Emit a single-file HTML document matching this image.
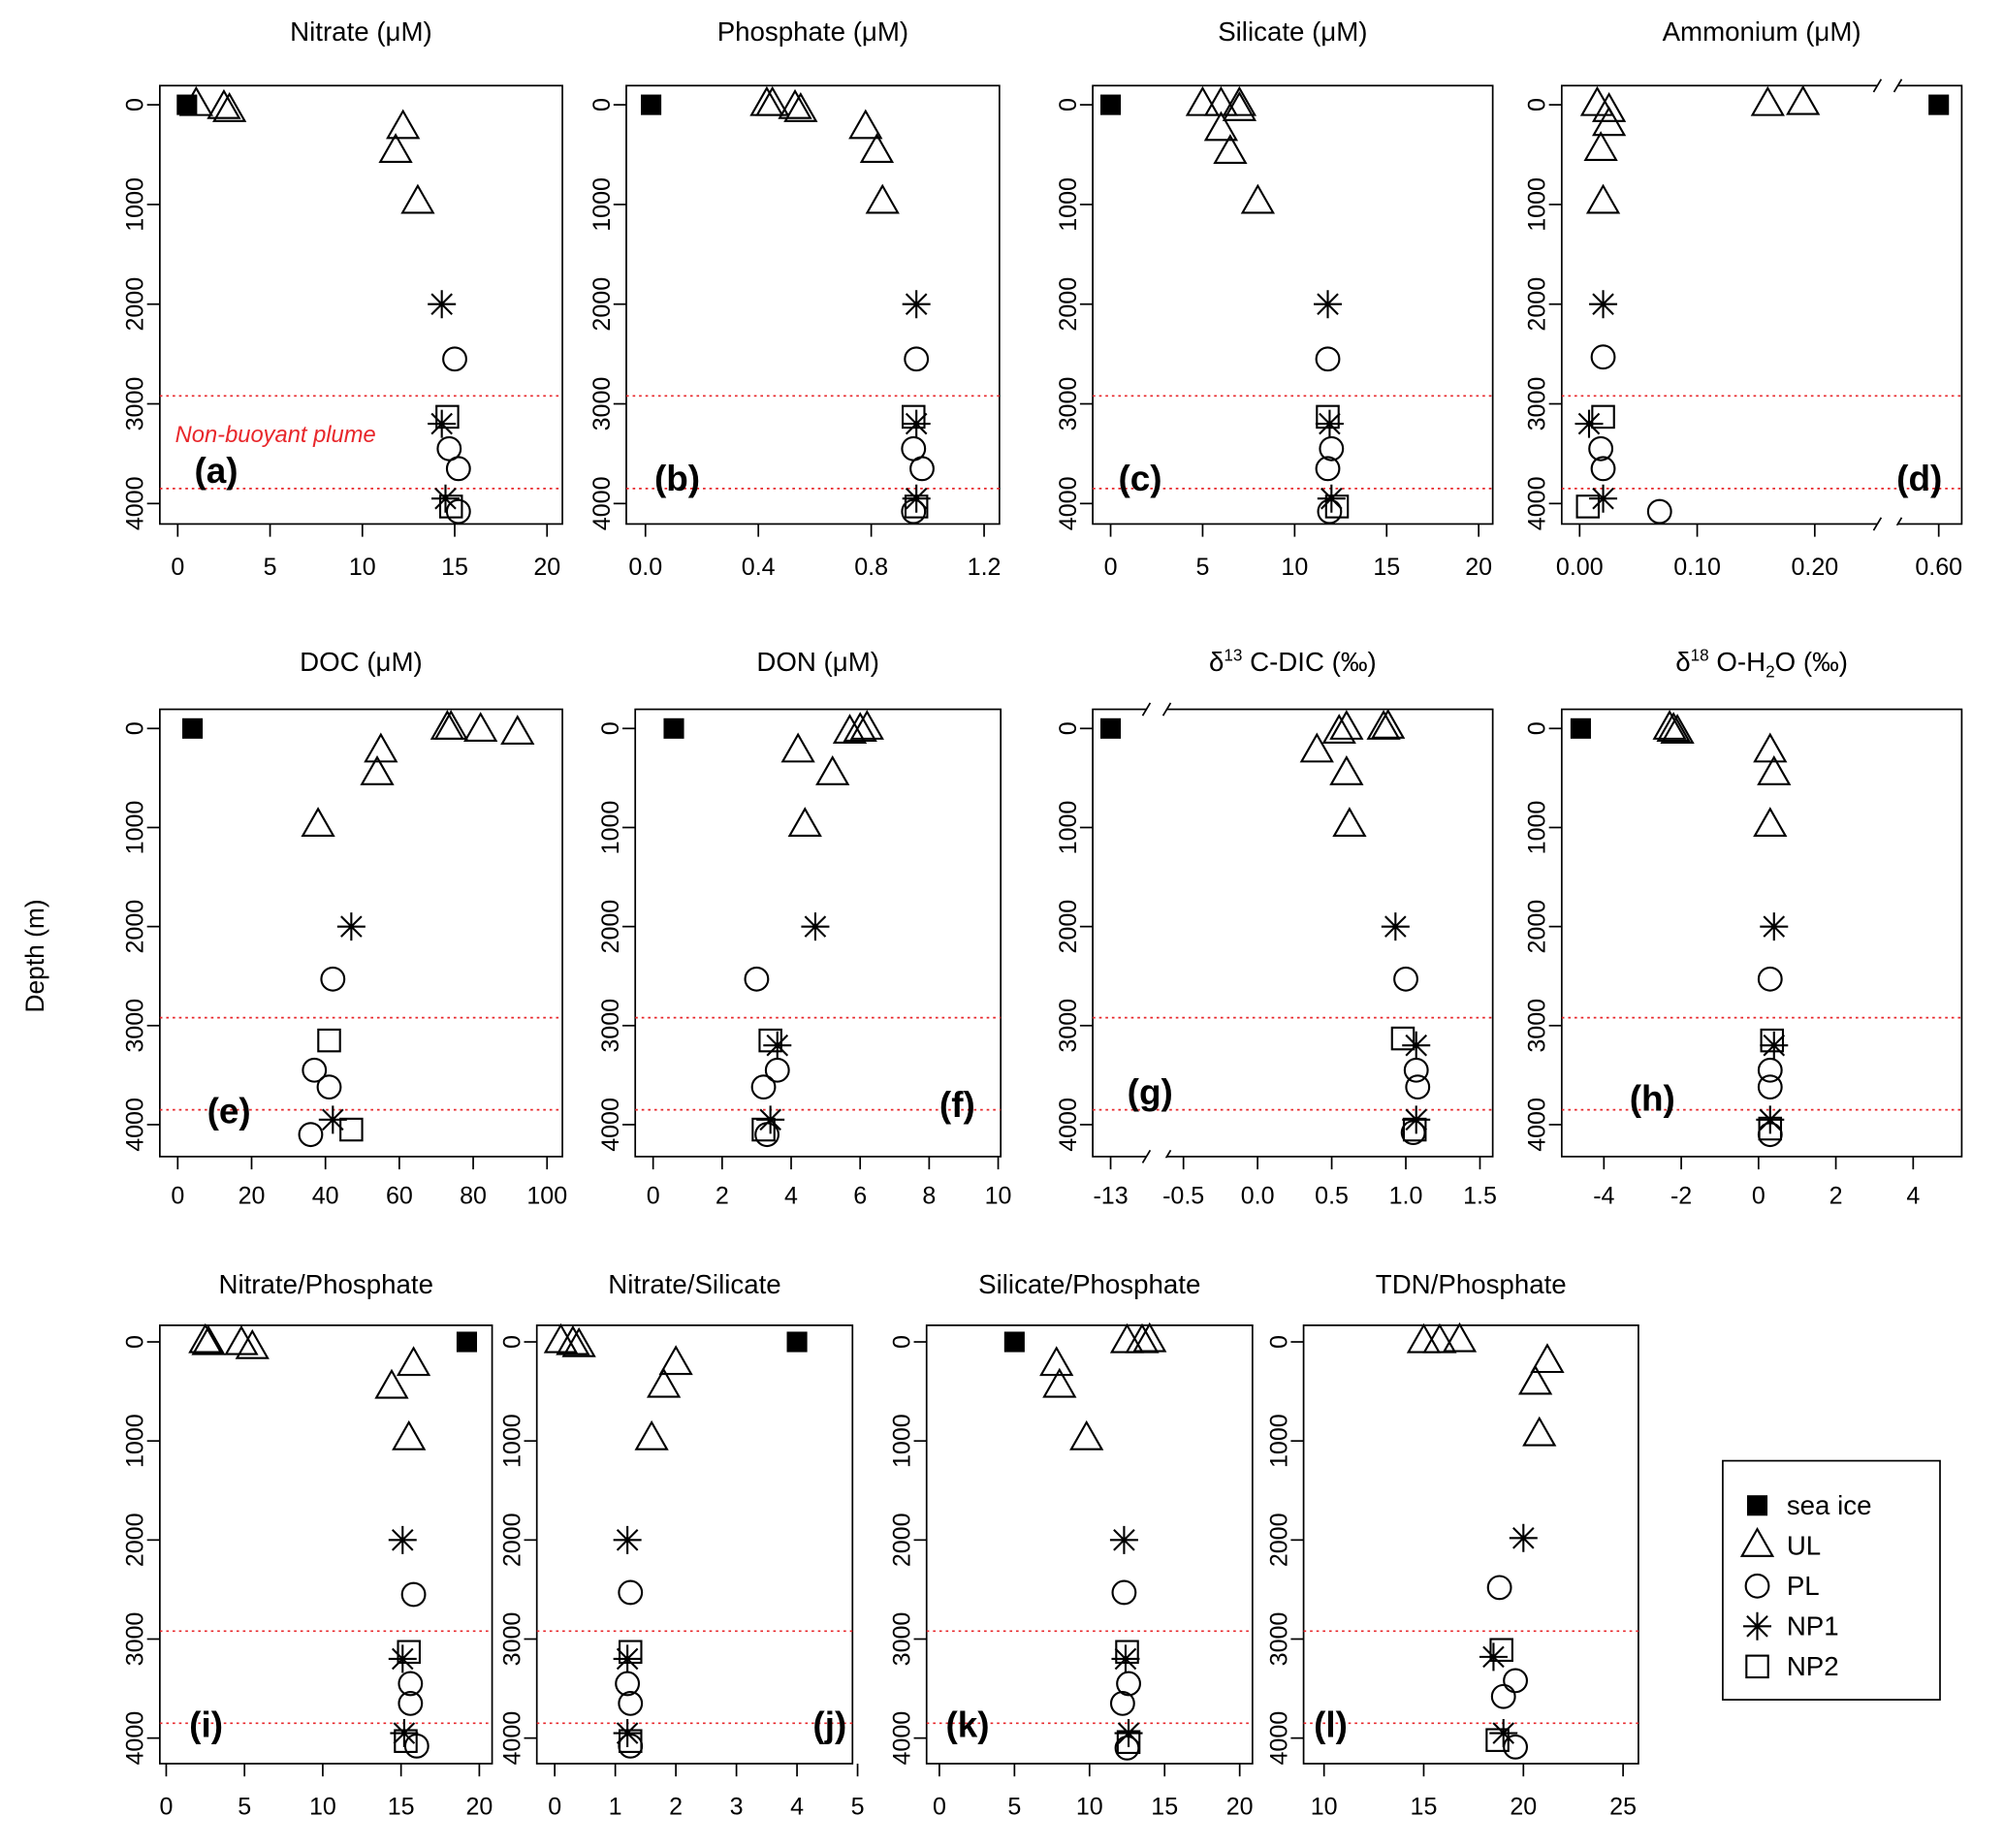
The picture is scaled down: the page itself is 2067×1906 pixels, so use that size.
<!DOCTYPE html>
<html><head><meta charset="utf-8"><style>
html,body{margin:0;padding:0;background:#fff}
svg{display:block;font-family:"Liberation Sans",Arial,sans-serif}
</style></head><body>
<svg id="c" width="2067" height="1906" viewBox="0 0 1568 1446" xmlns="http://www.w3.org/2000/svg"></svg>
<script>
// ---- data: [value, depth] ----
const aIce=[[0.5,0]], aUL=[[1,0],[2.5,30],[2.8,60],[12.2,230],[11.8,470],[13,980]], aPL=[[15,2550],[14.7,3450],[15.2,3650],[15.2,4080]], aNP1=[[14.3,2000],[14.3,3200],[14.5,3950]], aNP2=[[14.6,3130],[14.8,4030]];
const bIce=[[0.02,0]], bUL=[[0.43,0],[0.45,0],[0.53,30],[0.55,60],[0.78,230],[0.82,470],[0.84,980]], bPL=[[0.96,2550],[0.95,3450],[0.98,3650],[0.95,4080]], bNP1=[[0.96,2000],[0.96,3200],[0.96,3950]], bNP2=[[0.95,3130],[0.96,4030]];
const cIce=[[0,0]], cUL=[[5,0],[6,0],[7,0],[7,50],[6,250],[6.5,480],[8,980]], cPL=[[11.8,2550],[12,3450],[11.8,3650],[11.9,4080]], cNP1=[[11.8,2000],[11.9,3200],[12,3950]], cNP2=[[11.8,3130],[12.3,4030]];
const dIce=[[0.6,0]], dUL=[[0.16,0],[0.19,-10],[0.015,0],[0.025,60],[0.025,200],[0.018,450],[0.02,980]], dPL=[[0.02,2530],[0.018,3450],[0.02,3650],[0.068,4080]], dNP1=[[0.02,2000],[0.008,3200],[0.02,3950]], dNP2=[[0.02,3130],[0.007,4030]];
const eIce=[[4,0]], eUL=[[73,0],[74,0],[82,20],[92,50],[55,230],[54,460],[38,980]], ePL=[[42,2530],[37,3450],[41,3620],[36,4100]], eNP1=[[47,2000],[42,3950]], eNP2=[[41,3150],[47,4050]];
const fIce=[[0.6,0]], fUL=[[6.2,0],[6,20],[5.7,40],[4.2,230],[5.2,460],[4.4,980]], fPL=[[3,2530],[3.6,3450],[3.2,3620],[3.3,4100]], fNP1=[[4.7,2000],[3.6,3200],[3.4,3950]], fNP2=[[3.4,3150],[3.2,4050]];
const gIce=[[-13,0]], gUL=[[0.85,0],[0.88,-10],[0.6,0],[0.55,40],[0.4,230],[0.6,460],[0.62,980]], gPL=[[1,2530],[1.07,3450],[1.08,3620],[1.05,4080]], gNP1=[[0.93,2000],[1.07,3200],[1.07,3950]], gNP2=[[0.98,3130],[1.06,4050]];
const hIce=[[-4.6,0]], hUL=[[-2.3,0],[-2.2,20],[-2.1,40],[0.3,230],[0.4,460],[0.3,980]], hPL=[[0.3,2530],[0.3,3450],[0.3,3620],[0.3,4100]], hNP1=[[0.4,2000],[0.4,3200],[0.3,3950]], hNP2=[[0.35,3150],[0.3,4040]];
const iIce=[[19.2,0]], iUL=[[2.5,0],[2.7,20],[4.8,20],[5.5,60],[15.8,230],[14.4,460],[15.5,980]], iPL=[[15.8,2550],[15.6,3450],[15.6,3650],[16,4080]], iNP1=[[15.1,2000],[15.1,3200],[15.2,3950]], iNP2=[[15.5,3130],[15.3,4030]];
const jIce=[[4,0]], jUL=[[0.1,0],[0.3,20],[0.4,40],[2,220],[1.8,450],[1.6,980]], jPL=[[1.25,2530],[1.2,3450],[1.25,3650],[1.25,4080]], jNP1=[[1.2,2000],[1.2,3200],[1.2,3950]], jNP2=[[1.25,3130],[1.25,4030]];
const kIce=[[5,0]], kUL=[[12.5,0],[13.5,0],[14,-10],[7.8,230],[8,450],[9.8,980]], kPL=[[12.3,2530],[12.6,3450],[12.2,3650],[12.5,4100]], kNP1=[[12.3,2000],[12.4,3200],[12.6,3950]], kNP2=[[12.5,3130],[12.6,4040]];
const lIce=[], lUL=[[15,0],[15.8,0],[16.8,-10],[21.2,200],[20.6,420],[20.8,940]], lPL=[[18.8,2480],[19.6,3420],[19,3580],[19.6,4090]], lNP1=[[20,1980],[18.5,3180],[19,3950]], lNP2=[[18.9,3110],[18.7,4020]];
const depthTicks=[0,1000,2000,3000,4000];
const plumeDepths=[2920,3850];

const NS="http://www.w3.org/2000/svg", svg=document.getElementById('c');
function el(t,a,p){const e=document.createElementNS(NS,t);for(const k in a)e.setAttribute(k,a[k]);(p||svg).appendChild(e);return e;}
function lin(d0,d1,p0,p1){return v=>p0+(v-d0)*(p1-p0)/(d1-d0);}

const rows=[{top:67,bot:410,y0:82,y4:394,lab:450},{top:555,bot:905,y0:570,y4:880,lab:942},{top:1037,bot:1380,y0:1050,y4:1360,lab:1420}];
const panels=[
 {id:'a',t:'Nitrate (μM)',r:0,L:125,R:440,x:lin(0,20,139,428),ticks:[0,5,10,15,20],tl:['0','5','10','15','20'],d:[aIce,aUL,aPL,aNP1,aNP2],pl:[152,378],plume:true},
 {id:'b',t:'Phosphate (μM)',r:0,L:490,R:782,x:lin(0,1.2,505,770),ticks:[0,0.4,0.8,1.2],tl:['0.0','0.4','0.8','1.2'],d:[bIce,bUL,bPL,bNP1,bNP2],pl:[512,384]},
 {id:'c',t:'Silicate (μM)',r:0,L:855,R:1168,x:lin(0,20,869,1157),ticks:[0,5,10,15,20],tl:['0','5','10','15','20'],d:[cIce,cUL,cPL,cNP1,cNP2],pl:[875,384]},
 {id:'d',t:'Ammonium (μM)',r:0,L:1222,R:1535,x:v=>v>0.4?1517+(v-0.6)*920:1236+v*920,ticks:[0,0.1,0.2,0.6],tl:['0.00','0.10','0.20','0.60'],d:[dIce,dUL,dPL,dNP1,dNP2],pl:[1484,384],brk:1477},
 {id:'e',t:'DOC (μM)',r:1,L:125,R:440,x:lin(0,100,139,428),ticks:[0,20,40,60,80,100],tl:['0','20','40','60','80','100'],d:[eIce,eUL,ePL,eNP1,eNP2],pl:[162,879]},
 {id:'f',t:'DON (μM)',r:1,L:497,R:783,x:lin(0,10,511,781),ticks:[0,2,4,6,8,10],tl:['0','2','4','6','8','10'],d:[fIce,fUL,fPL,fNP1,fNP2],pl:[735,874]},
 {id:'g',t:'δ13C-DIC (‰)',r:1,L:855,R:1168,x:v=>v<-5?869+(v+13)*10:984+v*116,ticks:[-13,-0.5,0,0.5,1,1.5],tl:['-13','-0.5','0.0','0.5','1.0','1.5'],d:[gIce,gUL,gPL,gNP1,gNP2],pl:[882,864],brk:905},
 {id:'h',t:'δ18O-H2O (‰)',r:1,L:1222,R:1535,x:lin(0,4,1376,1497),ticks:[-4,-2,0,2,4],tl:['-4','-2','0','2','4'],d:[hIce,hUL,hPL,hNP1,hNP2],pl:[1275,869]},
 {id:'i',t:'Nitrate/Phosphate',r:2,L:125,R:385,x:lin(0,20,130,375),ticks:[0,5,10,15,20],tl:['0','5','10','15','20'],d:[iIce,iUL,iPL,iNP1,iNP2],pl:[148,1359]},
 {id:'j',t:'Nitrate/Silicate',r:2,L:420,R:667,x:lin(0,5,434,671),ticks:[0,1,2,3,4,5],tl:['0','1','2','3','4','5'],d:[jIce,jUL,jPL,jNP1,jNP2],pl:[636,1359]},
 {id:'k',t:'Silicate/Phosphate',r:2,L:725,R:980,x:lin(0,20,735,970),ticks:[0,5,10,15,20],tl:['0','5','10','15','20'],d:[kIce,kUL,kPL,kNP1,kNP2],pl:[740,1359]},
 {id:'l',t:'TDN/Phosphate',r:2,L:1020,R:1282,x:lin(10,25,1036,1270),ticks:[10,15,20,25],tl:['10','15','20','25'],d:[lIce,lUL,lPL,lNP1,lNP2],pl:[1028,1359]}
];

function marker(g,k,x,y){
  let e;
  if(k===0){e=el('rect',{x:x-8,y:y-8,width:16,height:16,fill:'#000'},g);}
  else if(k===1){e=el('polygon',{points:`${x},${y-13} ${x-12},${y+8} ${x+12},${y+8}`,fill:'none',stroke:'#000','stroke-width':1.6},g);}
  else if(k===2){e=el('circle',{cx:x,cy:y,r:9,fill:'none',stroke:'#000','stroke-width':1.6},g);}
  else if(k===3){e=el('path',{d:`M${x-11},${y}H${x+11}M${x},${y-11}V${y+11}M${x-8},${y-8}L${x+8},${y+8}M${x-8},${y+8}L${x+8},${y-8}`,stroke:'#000','stroke-width':1.6},g);}
  else {e=el('rect',{x:x-8.5,y:y-8.5,width:17,height:17,fill:'none',stroke:'#000','stroke-width':1.6},g);}
  
}

panels.forEach(p=>{
  const r=rows[p.r], y=lin(0,4000,r.y0,r.y4);
  const g=el('g',{});
  
  
  el('rect',{x:p.L,y:r.top,width:p.R-p.L,height:r.bot-r.top,fill:'none',stroke:'#000','stroke-width':1.3},g);
  if(p.brk){el('rect',{x:p.brk-8,y:r.top-3,width:16,height:6,fill:'#fff'},g);el('rect',{x:p.brk-8,y:r.bot-3,width:16,height:6,fill:'#fff'},g);
    [r.top,r.bot].forEach(yy=>{el('path',{d:`M${p.brk-11},${yy+5}L${p.brk-5},${yy-5}M${p.brk+5},${yy+5}L${p.brk+11},${yy-5}`,stroke:'#000','stroke-width':1.3},g);});
    el('rect',{x:p.brk-8,y:r.bot+1,width:16,height:12,fill:'#fff'},g);}
  plumeDepths.forEach(dp=>{const ln=el('line',{x1:p.L,x2:p.R,y1:y(dp),y2:y(dp),stroke:'#e8262a','stroke-width':1.3,'stroke-dasharray':'2,3'},g);});
  depthTicks.forEach(t=>{const yy=y(t);el('line',{x1:p.L-10,x2:p.L,y1:yy,y2:yy,stroke:'#000','stroke-width':1.3},g);
    const lx=p.L-13;
    const tx=el('text',{x:lx,y:yy,'font-size':19,'text-anchor':'middle',transform:`rotate(-90 ${lx} ${yy})`},g);tx.textContent=t;});
  p.ticks.forEach((t,i)=>{const xx=p.x(t);el('line',{x1:xx,x2:xx,y1:r.bot,y2:r.bot+10,stroke:'#000','stroke-width':1.3},g);
    const tx=el('text',{x:xx,y:r.lab,'font-size':19,'text-anchor':'middle'},g);tx.textContent=p.tl[i];});
  const tt=el('text',{x:(p.L+p.R)/2,y:p.r===0?32:p.r===1?525:1012,'font-size':21,'text-anchor':'middle'},g);
  
  if(p.id==='g'){tt.innerHTML='δ<tspan font-size="13" dy="-8">13</tspan><tspan dy="8"> C-DIC (‰)</tspan>';}
  else if(p.id==='h'){tt.innerHTML='δ<tspan font-size="13" dy="-8">18</tspan><tspan dy="8"> O-H</tspan><tspan font-size="13" dy="5">2</tspan><tspan dy="-5">O (‰)</tspan>';}
  else tt.textContent=p.t;
  const pl=el('text',{x:p.pl[0],y:p.pl[1],'font-size':28,'font-weight':'bold'},g);pl.textContent='('+p.id+')';
  
  if(p.plume){const nb=el('text',{x:137,y:346,'font-size':18,'font-style':'italic',fill:'#e8262a'},g);nb.textContent='Non-buoyant plume';}
  p.d.forEach((s,k)=>s.forEach(pt=>marker(g,k,p.x(pt[0]),y(pt[1]))));
});

const yl=el('text',{x:34,y:748,'font-size':20,'text-anchor':'middle',transform:'rotate(-90 34 748)'});
yl.textContent='Depth (m)';



const lg=el('g',{});


el('rect',{x:1348,y:1143,width:170,height:187,fill:'#fff',stroke:'#000','stroke-width':1.3},lg);
['sea ice','UL','PL','NP1','NP2'].forEach((n,k)=>{
  const yy=1178+k*31.5;
  marker(lg,k,1375,yy);
  const t=el('text',{x:1398,y:yy+7,'font-size':21},lg);t.textContent=n;
  
});
</script>
</body></html>
